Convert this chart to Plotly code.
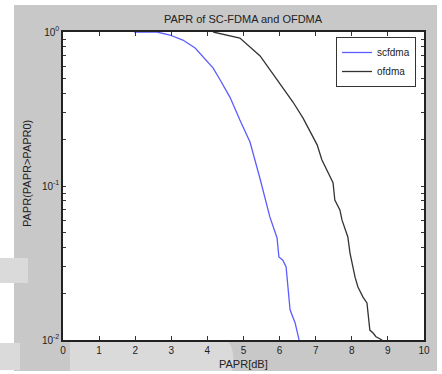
import plotly.graph_objects as go

# scfdma CCDF
sc_x = [1.97, 2.60, 2.96, 3.32, 3.66, 3.99, 4.16, 4.35, 4.63, 4.90, 5.18, 5.46, 5.73, 5.93, 5.98, 6.09, 6.18, 6.29, 6.43, 6.54]
sc_y = [1.0, 1.0, 0.956, 0.887, 0.787, 0.650, 0.583, 0.490, 0.375, 0.268, 0.193, 0.111, 0.063, 0.046, 0.0346, 0.033, 0.0298, 0.0157, 0.0129, 0.0100]

# ofdma CCDF
of_x = [4.16, 4.90, 5.46, 5.73, 6.09, 6.37, 6.65, 7.04, 7.17, 7.48, 7.53, 7.67, 7.73, 7.89, 7.95, 8.09, 8.17, 8.31, 8.42, 8.50, 8.59, 8.67, 8.84]
of_y = [1.0, 0.914, 0.699, 0.567, 0.433, 0.351, 0.276, 0.185, 0.148, 0.105, 0.081, 0.070, 0.060, 0.0467, 0.0367, 0.0256, 0.0221, 0.019, 0.0174, 0.0116, 0.0111, 0.0105, 0.0100]

x_ticks = list(range(0, 11))
y_decades = {0.01: "10<sup>-2</sup>", 0.1: "10<sup>-1</sup>", 1: "10<sup>0</sup>"}
y_minor = [m * 10 ** e for e in (-2, -1) for m in range(2, 10)]
y_tickvals = sorted(list(y_decades) + y_minor)
y_ticktext = [y_decades.get(v, "") for v in y_tickvals]

W, H = 442, 374
L, R, T, B = 63, 18, 32, 34
PW, PH = W - L - R, H - T - B


def px(xp):
    return (xp - L) / PW


def py(yp):
    return (H - B - yp) / PH


FONT = "Liberation Sans, Arial, sans-serif"
GRAY = "#c8c8c8"
LIGHT = "#dadada"

fig = go.Figure()
fig.add_trace(go.Scatter(x=sc_x, y=sc_y, mode="lines", name="scfdma",
                         line=dict(color="#5c5cff", width=1.3)))
fig.add_trace(go.Scatter(x=of_x, y=of_y, mode="lines", name="ofdma",
                         line=dict(color="#333333", width=1.3)))

shapes = []
# white strips around the gray figure background
for (x0, y0, x1, y1) in [(0, 0, 14, H), (0, 0, W, 5), (437, 0, W, H), (0, 371, W, H)]:
    shapes.append(dict(type="rect", xref="paper", yref="paper", layer="below",
                       x0=px(x0), x1=px(x1), y0=py(y1), y1=py(y0),
                       fillcolor="white", line=dict(width=0)))
# faint watermark pieces outside the plot area
for (x0, y0, x1, y1) in [(0, 258, 28, 283), (0, 343, 20, 370)]:
    shapes.append(dict(type="rect", xref="paper", yref="paper", layer="below",
                       x0=px(x0), x1=px(x1), y0=py(y1), y1=py(y0),
                       fillcolor=LIGHT, line=dict(width=0)))
path = "M {a},{b} L {c},{b} Q {d},{e} {f},{g} L {h},{g} Z".format(
    a=px(70), b=py(341), c=px(228), d=px(236), e=py(352), f=px(232), g=py(371), h=px(70))
shapes.append(dict(type="path", xref="paper", yref="paper", layer="below", path=path,
                   fillcolor=LIGHT, line=dict(width=0)))

fig.update_layout(
    width=W, height=H,
    margin=dict(l=L, r=R, t=T, b=B),
    paper_bgcolor=GRAY, plot_bgcolor="white",
    font=dict(family=FONT, size=10, color="#222"),
    showlegend=True,
    legend=dict(x=px(336), y=py(37), xanchor="left", yanchor="top",
                bgcolor="white", bordercolor="#333", borderwidth=1,
                font=dict(size=10, family=FONT, color="#222"),
                itemwidth=30, tracegroupgap=0),
    shapes=shapes,
    annotations=[
        dict(text="PAPR of SC-FDMA and OFDMA", xref="paper", yref="paper",
             x=0.5, y=py(19), xanchor="center", yanchor="middle", showarrow=False,
             font=dict(size=11, family=FONT, color="#222")),
        dict(text="PAPR[dB]", xref="paper", yref="paper",
             x=0.5, y=py(364), xanchor="center", yanchor="middle", showarrow=False,
             font=dict(size=11, family=FONT, color="#222")),
        dict(text="PAPR(PAPR>PAPR0)", xref="paper", yref="paper",
             x=px(27), y=py(174), xanchor="center", yanchor="middle", showarrow=False,
             textangle=-90, font=dict(size=11, family=FONT, color="#222")),
    ],
)
fig.update_xaxes(range=[0, 10], tickvals=x_ticks, ticks="inside", ticklen=4,
                 tickcolor="#333", showline=True, linecolor="#222", linewidth=1.5,
                 mirror="ticks", showgrid=False, zeroline=False,
                 tickfont=dict(size=10, family=FONT, color="#222"))
fig.update_yaxes(type="log", range=[-2, 0], tickvals=y_tickvals, ticktext=y_ticktext,
                 ticks="inside", ticklen=3, tickcolor="#333", showline=True,
                 linecolor="#222", linewidth=1.5, mirror="ticks", showgrid=False,
                 zeroline=False, tickfont=dict(size=10, family=FONT, color="#222"))
fig.write_html("out.html", config={"displayModeBar": False},
               post_script="document.body.style.margin='0';")
